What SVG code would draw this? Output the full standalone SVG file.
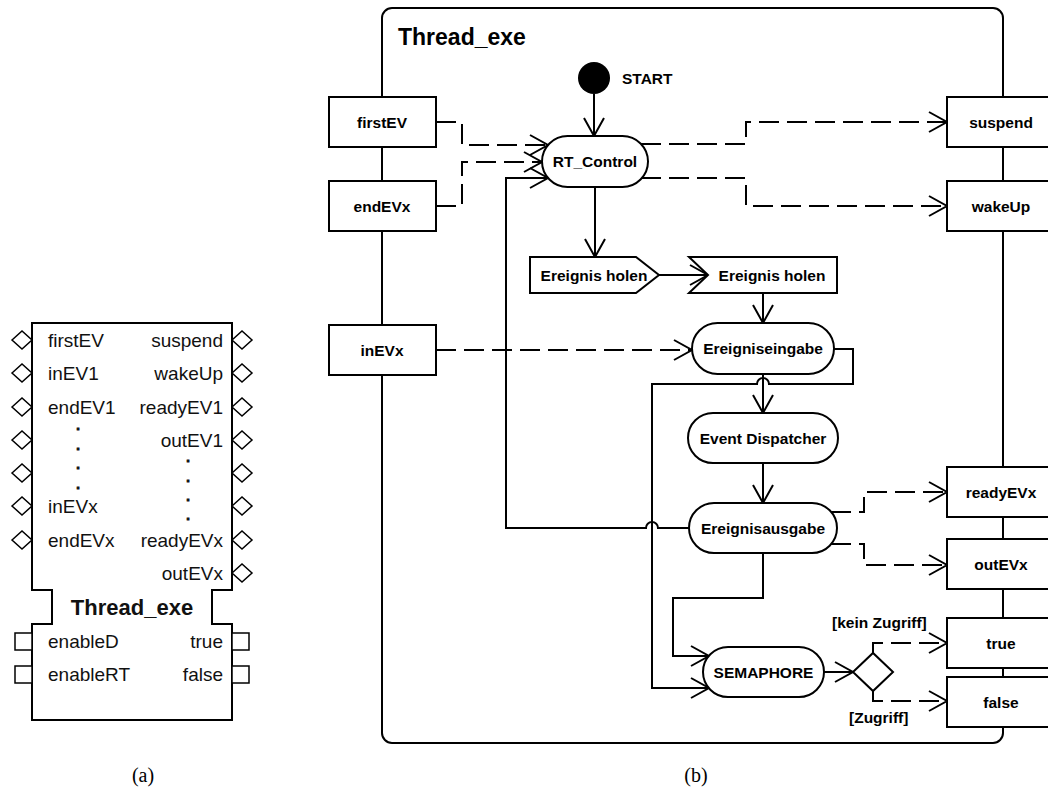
<svg xmlns="http://www.w3.org/2000/svg" width="1048" height="791" viewBox="0 0 1048 791">
  <defs>
    <style>
      .shape { fill: #fff; stroke: #000; stroke-width: 2; }
      .lbl { font-family: "Liberation Sans", Arial, sans-serif; font-weight: bold; font-size: 15.5px; fill: #000; text-anchor: middle; }
      .lbl.ls { text-anchor: start; }
      .pin { font-family: "Liberation Sans", Arial, sans-serif; font-size: 19px; fill: #111; }
      .end { text-anchor: end; }
      .dot { font-family: "Liberation Sans", Arial, sans-serif; font-size: 13px; font-weight: bold; fill: #111; stroke: #111; stroke-width: 0.9; text-anchor: middle; }
      .flow { fill: none; stroke: #000; stroke-width: 2; }
      .arrow { marker-end: url(#open); }
      .dash { stroke-dasharray: 20 8; }
      .port { fill: #fff; stroke: #000; stroke-width: 1.5; }
      .cap { font-family: "Liberation Serif", "Times New Roman", serif; font-size: 20px; fill: #000; text-anchor: middle; }
    </style>
    <marker id="open" markerUnits="userSpaceOnUse" markerWidth="24" markerHeight="24" viewBox="0 0 24 24" refX="21" refY="12" orient="auto">
      <path d="M3,2 L21,12 L3,22" fill="none" stroke="#000" stroke-width="2"/>
    </marker>
  </defs>

  <!-- (a) function block symbol -->
  <g id="block-a">
    <path class="shape" stroke-width="2.5" d="M32,323 H232 V590 H212 V624 H232 V720 H32 V624 H52 V590 H32 Z"/>
    <g id="block-a-event-inputs">
      <polygon class="port" points="12,340 22,331 32,340 22,349"/>
      <polygon class="port" points="12,373 22,364 32,373 22,382"/>
      <polygon class="port" points="12,407 22,398 32,407 22,416"/>
      <polygon class="port" points="12,440 22,431 32,440 22,449"/>
      <polygon class="port" points="12,473 22,464 32,473 22,482"/>
      <polygon class="port" points="12,506 22,497 32,506 22,515"/>
      <polygon class="port" points="12,540 22,531 32,540 22,549"/>
    </g>
    <g id="block-a-event-outputs">
      <polygon class="port" points="232,340 242,331 252,340 242,349"/>
      <polygon class="port" points="232,373 242,364 252,373 242,382"/>
      <polygon class="port" points="232,407 242,398 252,407 242,416"/>
      <polygon class="port" points="232,440 242,431 252,440 242,449"/>
      <polygon class="port" points="232,473 242,464 252,473 242,482"/>
      <polygon class="port" points="232,506 242,497 252,506 242,515"/>
      <polygon class="port" points="232,540 242,531 252,540 242,549"/>
      <polygon class="port" points="232,573 242,564 252,573 242,582"/>
    </g>
    <g id="block-a-data-ports">
      <rect class="port" x="15" y="633" width="17" height="17"/>
      <rect class="port" x="15" y="666" width="17" height="17"/>
      <rect class="port" x="232" y="633" width="17" height="17"/>
      <rect class="port" x="232" y="666" width="17" height="17"/>
    </g>
    <text class="pin" x="48" y="347">firstEV</text>
    <text class="pin" x="48" y="380">inEV1</text>
    <text class="pin" x="48" y="414">endEV1</text>
    <text class="dot" x="78" y="430">.</text>
    <text class="dot" x="78" y="449.5">.</text>
    <text class="dot" x="78" y="469">.</text>
    <text class="dot" x="78" y="488.5">.</text>
    <text class="pin" x="48" y="513">inEVx</text>
    <text class="pin" x="48" y="547">endEVx</text>
    <text class="pin" x="48" y="648">enableD</text>
    <text class="pin" x="48" y="681">enableRT</text>

    <text class="pin end" x="223" y="347">suspend</text>
    <text class="pin end" x="223" y="380">wakeUp</text>
    <text class="pin end" x="223" y="414">readyEV1</text>
    <text class="pin end" x="223" y="447">outEV1</text>
    <text class="dot" x="188" y="462">.</text>
    <text class="dot" x="188" y="481.5">.</text>
    <text class="dot" x="188" y="500.5">.</text>
    <text class="dot" x="188" y="520">.</text>
    <text class="pin end" x="223" y="547">readyEVx</text>
    <text class="pin end" x="223" y="580">outEVx</text>
    <text class="pin end" x="223" y="648">true</text>
    <text class="pin end" x="223" y="681">false</text>

    <text x="132" y="615" font-family="Liberation Sans, Arial, sans-serif" font-weight="bold" font-size="22px" fill="#111" text-anchor="middle">Thread_exe</text>
  </g>

  <!-- (b) activity frame -->
  <g id="frame-b">
    <rect x="382" y="8" width="621" height="735" rx="10" ry="10" fill="none" stroke="#000" stroke-width="2"/>
    <text x="398" y="45" font-family="Liberation Sans, Arial, sans-serif" font-weight="bold" font-size="23px" fill="#000">Thread_exe</text>
  </g>

  <!-- connectors -->
  <g id="connectors">
    <path class="flow arrow" d="M594,94 V136"/>
    <path class="flow dash arrow" d="M436,122 H462 V145 H548"/>
    <path class="flow dash arrow" d="M436,206 H462 V162 H542"/>
    <path class="flow arrow" d="M689,528 H658 A6,6 0 0 0 646,528 H506 V178 H548"/>
    <path class="flow dash arrow" d="M641,144 H746 V122 H947"/>
    <path class="flow dash arrow" d="M641,178 H746 V206 H947"/>
    <path class="flow arrow" d="M595,187 V257"/>
    <path class="flow arrow" d="M659,275 H708"/>
    <path class="flow arrow" d="M763,293 V323"/>
    <path class="flow dash arrow" d="M436,350 H692"/>
    <path class="flow arrow" d="M834,349 H853 V384 H769 A6,6 0 0 0 757,384 H652 V688 H709"/>
    <path class="flow arrow" d="M763,374 V413"/>
    <path class="flow arrow" d="M763,463 V503"/>
    <path class="flow dash arrow" d="M831,512 H864 V492 H947"/>
    <path class="flow dash arrow" d="M831,544 H864 V565 H947"/>
    <path class="flow arrow" d="M763,553 V598 H673 V656 H709"/>
    <path class="flow arrow" d="M824,672 H853"/>
    <path class="flow dash arrow" d="M873,653 V643 H947"/>
    <path class="flow dash arrow" d="M873,691 V701 H947"/>
    <text class="lbl ls" x="832" y="628">[kein Zugriff]</text>
    <text class="lbl ls" x="849" y="723">[Zugriff]</text>
  </g>

  <!-- nodes -->
  <g id="start">
    <circle cx="594" cy="78" r="16" fill="#000"/>
    <text class="lbl ls" x="622" y="83.5">START</text>
  </g>
  <g id="rt-control">
    <rect class="shape" x="542" y="136" width="106" height="51" rx="25.5"/>
    <text class="lbl" x="595" y="167">RT_Control</text>
  </g>
  <g id="first-ev">
    <rect class="shape" x="329" y="97" width="107" height="50"/>
    <text class="lbl" x="382" y="127.5">firstEV</text>
  </g>
  <g id="end-evx">
    <rect class="shape" x="329" y="181" width="107" height="50"/>
    <text class="lbl" x="382" y="211.5">endEVx</text>
  </g>
  <g id="in-evx">
    <rect class="shape" x="329" y="325" width="107" height="50"/>
    <text class="lbl" x="382" y="355.5">inEVx</text>
  </g>
  <g id="suspend">
    <rect class="shape" x="947" y="97" width="114" height="50"/>
    <text class="lbl" x="1001" y="127.5">suspend</text>
  </g>
  <g id="wake-up">
    <rect class="shape" x="947" y="181" width="114" height="50"/>
    <text class="lbl" x="1001" y="211.5">wakeUp</text>
  </g>
  <g id="ready-evx">
    <rect class="shape" x="947" y="467" width="114" height="50"/>
    <text class="lbl" x="1001" y="497.5">readyEVx</text>
  </g>
  <g id="out-evx">
    <rect class="shape" x="947" y="539" width="114" height="50"/>
    <text class="lbl" x="1001" y="569.5">outEVx</text>
  </g>
  <g id="true-out">
    <rect class="shape" x="947" y="618" width="114" height="50"/>
    <text class="lbl" x="1001" y="648.5">true</text>
  </g>
  <g id="false-out">
    <rect class="shape" x="947" y="677" width="114" height="50"/>
    <text class="lbl" x="1001" y="707.5">false</text>
  </g>
  <g id="send-event">
    <polygon class="shape" points="530,257 636,257 659,275 636,293 530,293"/>
    <text class="lbl" x="594" y="280.5">Ereignis holen</text>
  </g>
  <g id="receive-event">
    <polygon class="shape" points="689,257 837,257 837,293 689,293 708,275"/>
    <text class="lbl" x="772" y="280.5">Ereignis holen</text>
  </g>
  <g id="ereigniseingabe">
    <rect class="shape" x="692" y="323" width="142" height="51" rx="25.5"/>
    <text class="lbl" x="763" y="354">Ereigniseingabe</text>
  </g>
  <g id="event-dispatcher">
    <rect class="shape" x="688" y="413" width="150" height="50" rx="25"/>
    <text class="lbl" x="763" y="443.5">Event Dispatcher</text>
  </g>
  <g id="ereignisausgabe">
    <rect class="shape" x="689" y="503" width="148" height="50" rx="25"/>
    <text class="lbl" x="763" y="533.5">Ereignisausgabe</text>
  </g>
  <g id="semaphore">
    <rect class="shape" x="703" y="647" width="121" height="50" rx="25"/>
    <text class="lbl" x="763.5" y="677.5">SEMAPHORE</text>
  </g>
  <g id="decision">
    <polygon class="shape" points="853,672 873,653 893,672 873,691"/>
  </g>

  <!-- captions -->
  <text class="cap" x="143" y="782">(a)</text>
  <text class="cap" x="696" y="782">(b)</text>
</svg>
